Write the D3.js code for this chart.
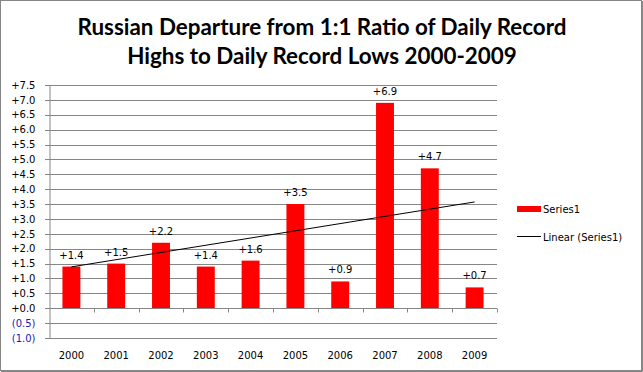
<!DOCTYPE html>
<html>
<head>
<meta charset="utf-8">
<script src="https://cdn.jsdelivr.net/npm/d3@7"></script>
<style>
	body { margin: 0; background: #fff; }
	text { font-family: "DejaVu Sans", sans-serif; font-size: 10px; }
</style>
</head>
<body>
<div id="chart"></div>
<script>
const years = ['2000', '2001', '2002', '2003', '2004', '2005', '2006', '2007', '2008', '2009']
const departure = [1.4, 1.5, 2.2, 1.4, 1.6, 3.5, 0.9, 6.9, 4.7, 0.7]
const yTicks = [-1, -0.5, 0, 0.5, 1, 1.5, 2, 2.5, 3, 3.5, 4, 4.5, 5, 5.5, 6, 6.5, 7, 7.5]
const titleLines = ['Russian Departure from 1:1 Ratio of Daily Record', 'Highs to Daily Record Lows 2000-2009']

const width = 643, height = 372
const plot = { left: 49, right: 497, top: 85, bottom: 338 }

let svg = d3.select('#chart')
	.append('svg')
	.attr('width', width)
	.attr('height', height)

// outer frame
svg.append('rect')
	.attr('x', 0.5).attr('y', 0.5)
	.attr('width', width - 2).attr('height', height - 2)
	.attr('fill', '#fff')
	.attr('stroke', '#868686')
svg.append('path')
	.attr('d', `M${width - 0.5},1V${height - 0.5}H1`)
	.attr('fill', 'none')
	.attr('stroke', '#868686')

svg.append('g').selectAll('text')
	.data(titleLines)
	.enter().append('text')
	.attr('x', 322)
	.attr('y', (d, i) => 35 + i * 29)
	.attr('text-anchor', 'middle')
	.style('font-family', 'Lato, sans-serif')
	.style('font-weight', 'bold')
	.style('font-size', '22.4px')
	.text(d => d)

let x = d3.scaleBand()
	.domain(years)
	.range([plot.left, plot.right])
	.paddingInner(0.6)
	.paddingOuter(0.3)

let xBand = d3.scaleBand()
	.domain(years)
	.range([plot.left, plot.right])

let y = d3.scaleLinear()
	.domain([-1, 7.5])
	.range([plot.bottom, plot.top])

let fmt = v => v < 0 ? '(' + d3.format('.1f')(-v) + ')' : '+' + d3.format('.1f')(v)

// gridlines, running out past the axis as tick marks
svg.append('g').selectAll('line')
	.data(yTicks)
	.enter().append('line')
	.attr('x1', plot.left - 4).attr('x2', plot.right)
	.attr('y1', d => Math.round(y(d)) + 0.5)
	.attr('y2', d => Math.round(y(d)) + 0.5)
	.attr('stroke', '#868686')

// value axis
let yAxis = svg.append('g')
	.attr('transform', `translate(${plot.left + 0.5},0)`)
	.call(d3.axisLeft(y).tickValues(yTicks).tickSize(0).tickPadding(14).tickFormat(fmt))
yAxis.select('.domain').attr('stroke', '#868686')
yAxis.selectAll('text')
	.style('font-family', '"DejaVu Sans", sans-serif')
	.style('font-size', '10px')
	.attr('fill', d => d < 0 ? '#2020b0' : '#000')

// bars
svg.append('g').selectAll('rect')
	.data(departure)
	.enter().append('rect')
	.attr('x', (d, i) => x(years[i]))
	.attr('width', x.bandwidth())
	.attr('y', d => y(d))
	.attr('height', d => y(0) - y(d))
	.attr('fill', '#ff0000')

// category axis at zero
let xAxis = svg.append('g')
	.attr('transform', `translate(0,${Math.round(y(0)) + 0.5})`)
xAxis.append('line')
	.attr('x1', plot.left).attr('x2', plot.right)
	.attr('stroke', '#868686')
xAxis.selectAll('.tick')
	.data(years)
	.enter().append('line')
	.attr('x1', d => Math.round(xBand(d) + xBand.bandwidth()) + 0.5)
	.attr('x2', d => Math.round(xBand(d) + xBand.bandwidth()) + 0.5)
	.attr('y1', 0).attr('y2', 4)
	.attr('stroke', '#868686')

svg.append('g').selectAll('text')
	.data(years)
	.enter().append('text')
	.attr('x', d => xBand(d) + xBand.bandwidth() / 2)
	.attr('y', 359)
	.attr('text-anchor', 'middle')
	.text(d => d)

// data labels
svg.append('g').selectAll('text')
	.data(departure)
	.enter().append('text')
	.attr('x', (d, i) => x(years[i]) + x.bandwidth() / 2)
	.attr('y', d => y(d) - 8)
	.attr('text-anchor', 'middle')
	.text(d => fmt(d))

// linear trend, least squares over the series
let idx = departure.map((d, i) => i)
let mx = d3.mean(idx), my = d3.mean(departure)
let slope = d3.sum(idx, i => (i - mx) * (departure[i] - my)) / d3.sum(idx, i => (i - mx) * (i - mx))
let intercept = my - slope * mx

let line = d3.line()
	.x(i => xBand(years[i]) + xBand.bandwidth() / 2)
	.y(i => y(intercept + slope * i))

svg.append('path')
	.attr('d', line([0, years.length - 1]))
	.attr('fill', 'none')
	.attr('stroke', '#000')
	.attr('stroke-width', 1)

// legend
let legend = svg.append('g')
legend.append('rect')
	.attr('x', 517).attr('y', 206)
	.attr('width', 24).attr('height', 6)
	.attr('fill', '#ff0000')
legend.append('text')
	.attr('x', 543).attr('y', 213)
	.text('Series1')
legend.append('line')
	.attr('x1', 517).attr('x2', 541)
	.attr('y1', 236.5).attr('y2', 236.5)
	.attr('stroke', '#000')
legend.append('text')
	.attr('x', 543).attr('y', 241)
	.text('Linear (Series1)')
</script>
</body>
</html>
